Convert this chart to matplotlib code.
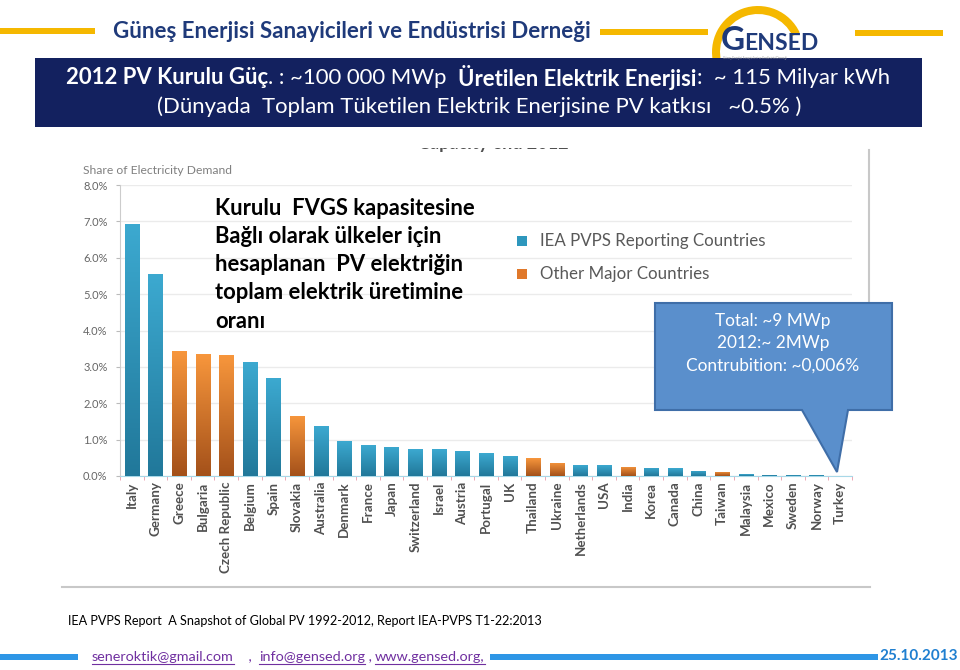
import matplotlib
matplotlib.use('Agg')
import matplotlib.pyplot as plt
import numpy as np
from matplotlib.patches import Rectangle, Polygon, Wedge
from matplotlib.colors import LinearSegmentedColormap
from matplotlib.transforms import Bbox

plt.rcParams['font.family'] = ['Lato', 'DejaVu Sans']

# data
countries = ['Italy', 'Germany', 'Greece', 'Bulgaria', 'Czech Republic', 'Belgium', 'Spain',
             'Slovakia', 'Australia', 'Denmark', 'France', 'Japan', 'Switzerland', 'Israel',
             'Austria', 'Portugal', 'UK', 'Thailand', 'Ukraine', 'Netherlands', 'USA', 'India',
             'Korea', 'Canada', 'China', 'Taiwan', 'Malaysia', 'Mexico', 'Sweden', 'Norway', 'Turkey']
share = [6.92, 5.55, 3.43, 3.35, 3.32, 3.13, 2.69, 1.65, 1.37, 0.96, 0.85, 0.80, 0.74, 0.74,
         0.69, 0.63, 0.55, 0.49, 0.36, 0.30, 0.30, 0.25, 0.22, 0.21, 0.14, 0.11, 0.05, 0.03,
         0.02, 0.015, 0.01]
group = ['iea', 'iea', 'other', 'other', 'other', 'iea', 'iea', 'other', 'iea', 'iea', 'iea',
         'iea', 'iea', 'iea', 'iea', 'iea', 'iea', 'other', 'other', 'iea', 'iea', 'other',
         'iea', 'iea', 'iea', 'other', 'iea', 'iea', 'iea', 'iea', 'iea']
yticks = [0, 1, 2, 3, 4, 5, 6, 7, 8]
legend_labels = ['IEA PVPS Reporting Countries', 'Other Major Countries']

W, H = 960, 670
fig = plt.figure(figsize=(W / 100, H / 100), dpi=100)
fig.patch.set_facecolor('white')


def pixel_axes():
    a = fig.add_axes([0, 0, 1, 1])
    a.set_xlim(0, W)
    a.set_ylim(H, 0)
    a.axis('off')
    a.set_facecolor('none')
    return a


# slide background in pixel coordinates
bg = pixel_axes()
renderer = fig.canvas.get_renderer()

navy = '#1F3A7A'
yellow = '#F5B800'

# header
for x0, x1, yy in [(0, 95, 31), (600, 708, 32), (855, 943, 33)]:
    bg.add_patch(Rectangle((x0, yy - 3), x1 - x0, 6, color=yellow, lw=0))
bg.text(113, 31, 'Güneş Enerjisi Sanayicileri ve Endüstrisi Derneği', fontsize=16,
        fontweight='bold', color=navy, va='center', ha='left')

# logo
bg.add_patch(Wedge((758, 52), 46, 165, 335, width=8, color=yellow, lw=0))
g = bg.text(721, 50, 'G', fontsize=24, fontweight='bold', color=navy, va='baseline', ha='left')
gw = g.get_window_extent(renderer).width
bg.text(721 + gw - 1, 50, 'ENSED', fontsize=16.5, fontweight='bold', color=navy,
        va='baseline', ha='left')
bg.text(723, 56, 'Güneş Enerjisi Sanayicileri ve Endüstrisi Derneği', fontsize=2.2,
        color='#999999', va='top', ha='left')

# navy banner
bg.add_patch(Rectangle((35, 58), 887, 69, color='#13215F', lw=0))


def rich_line(pieces, xc, y, size):
    texts = [bg.text(0, y, s, fontsize=size, fontweight=w, color='white', va='center', ha='left')
             for s, w in pieces]
    widths = [t.get_window_extent(renderer).width for t in texts]
    x = xc - sum(widths) / 2
    for t, w in zip(texts, widths):
        t.set_x(x)
        x += w


rich_line([('2012 PV Kurulu Güç', 'bold'), ('. : ~100 000 MWp  ', 'normal'),
           ('Üretilen Elektrik Enerjisi', 'bold'), (':  ~ 115 Milyar kWh', 'normal')],
          478, 78, 15.9)
rich_line([('(Dünyada  Toplam Tüketilen Elektrik Enerjisine PV katkısı   ~0.5% )', 'normal')],
          479, 107, 15.9)

# chart frame remnants (pasted picture, title cut off at the top)
bg.plot([62, 870], [587, 587], color='#C8C8C8', lw=1.5)
bg.plot([869, 869], [150, 303], color='#C8C8C8', lw=1.5)
cut = bg.text(418, 144, 'Capacity end 2012', fontsize=13, fontweight='bold', color='#505050',
              va='center', ha='left')
cut.set_clip_on(True)
cut.set_clip_box(Bbox.from_extents(400, H - 170, 700, H - 148))

bg.text(83, 170, 'Share of Electricity Demand', fontsize=8.7, color='#808080', va='center')

# bar chart
left, right, bottom, top = 120, 852, 476, 185
ax = fig.add_axes([left / W, (H - bottom) / H, (right - left) / W, (bottom - top) / H])
ax.set_facecolor('none')
x = np.arange(len(countries))
colors = {'iea': '#2E97BD', 'other': '#E0782A'}
bars = ax.bar(x, share, width=0.6, color=[colors[g] for g in group], zorder=2)
cmaps = {'iea': LinearSegmentedColormap.from_list('b', ['#21789A', '#3CA9D0']),
         'other': LinearSegmentedColormap.from_list('o', ['#A4511A', '#F7963C'])}
grad = np.linspace(0, 1, 100).reshape(-1, 1)
for b, gr in zip(bars, group):
    bx, bw, bh = b.get_x(), b.get_width(), b.get_height()
    im = ax.imshow(grad, extent=[bx, bx + bw, 0, bh], origin='lower', aspect='auto',
                   cmap=cmaps[gr], zorder=3)
    im.set_clip_path(b)

ax.set_xlim(-0.5, len(countries) - 0.5)
ax.set_ylim(0, 8)
ax.set_yticks(yticks)
ax.set_yticklabels(['%.1f%%' % v for v in yticks], fontsize=8, color='#666666')
ax.set_xticks(x)
ax.set_xticklabels(countries, rotation=90, fontsize=9.6, color='#505050', fontweight='bold')
ax.tick_params(axis='x', length=0, pad=4)
ax.tick_params(axis='y', length=3, color='#BBBBBB', pad=6)
ax.set_xticks(np.arange(-0.5, len(countries), 1), minor=True)
ax.tick_params(axis='x', which='minor', length=3, color='#E89AAA')
ax.grid(axis='y', color='#EBEBEB', lw=1, zorder=0)
for s in ['top', 'right']:
    ax.spines[s].set_visible(False)
ax.spines['left'].set_color('#CCCCCC')
ax.spines['bottom'].set_color('#A8D8E8')

# overlay for legend, note and callout
fg = pixel_axes()

for yy, key, lab in [(241, 'iea', legend_labels[0]), (274, 'other', legend_labels[1])]:
    fg.add_patch(Rectangle((517, yy - 5), 10, 10, color=colors[key], lw=0))
    fg.text(540, yy, lab, fontsize=12.2, color='#595959', va='center', ha='left')

fg.text(215, 198, 'Kurulu  FVGS kapasitesine\nBağlı olarak ülkeler için\nhesaplanan  PV elektriğin\n'
        'toplam elektrik üretimine\noranı', fontsize=15.8, fontweight='bold', color='black',
        va='top', ha='left', linespacing=1.42)

fg.add_patch(Polygon([(655, 303), (892, 303), (892, 410), (848, 410), (837, 472), (802, 410),
                      (655, 410)], closed=True, facecolor='#5A8FCC', edgecolor='#3F6EA8', lw=1.5))
for yy, s in [(321, 'Total: ~9 MWp'), (343, '2012:~ 2MWp'), (366, 'Contrubition: ~0,006%')]:
    fg.text(773, yy, s, fontsize=12.4, color='white', va='center', ha='center')

# footer
fg.text(68, 621, 'IEA PVPS Report  A Snapshot of Global PV 1992-2012, Report IEA-PVPS T1-22:2013',
        fontsize=9.1, color='black', va='center', ha='left')
blue = '#2E96E6'
fg.add_patch(Rectangle((0, 654), 78, 6, color=blue, lw=0))
fg.add_patch(Rectangle((490, 654), 388, 6, color=blue, lw=0))
xx = 92
for s in ['seneroktik@gmail.com', '    ,  ', 'info@gensed.org', ' , ', 'www.gensed.org,']:
    t = fg.text(xx, 657, s, fontsize=10.4, color='#7030A0', va='center', ha='left')
    w = t.get_window_extent(renderer).width
    if s.strip(' ,'):
        fg.plot([xx, xx + w], [664, 664], color='#7030A0', lw=0.8)
    xx += w
fg.text(958, 656, '25.10.2013', fontsize=11, fontweight='bold', color='#1F7FD0',
        va='center', ha='right')

fig.savefig('out.png', dpi=100, facecolor='white')
